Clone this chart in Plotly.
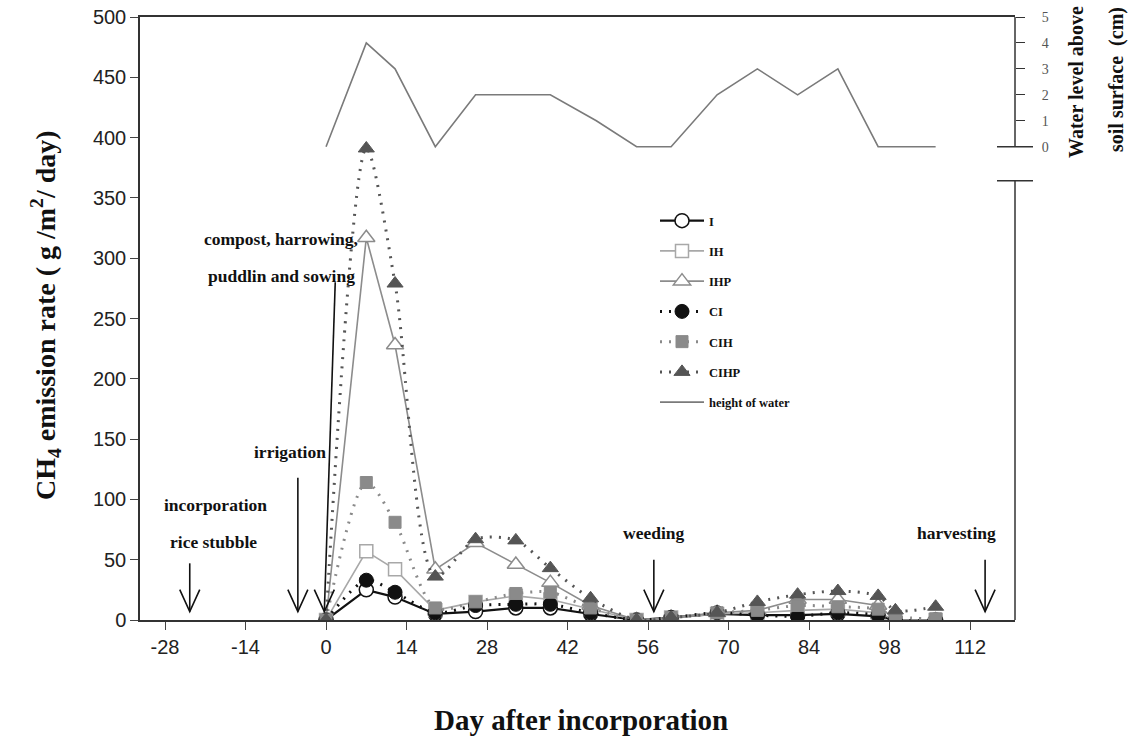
import plotly.graph_objects as go

# ---- data ----
days = [0, 7, 12, 19, 26, 33, 39, 46, 54, 60, 68, 75, 82, 89, 96, 99, 106]
I_vals    = [0, 25, 19, 5, 7, 10, 10, 5, 0, 2, 5, 4, 4, 5, 3, 0, 0]
IH_vals   = [0, 57, 42, 8, 15, 20, 17, 9, 0, 2, 5, 6, 8, 9, 6, 0, 0]
IHP_vals  = [0, 317, 228, 42, 64, 46, 31, 12, 0, 2, 6, 8, 17, 17, 12, 0, 0]
CI_vals   = [0, 33, 23, 6, 12, 13, 13, 6, 0, 2, 6, 4, 3, 6, 4, 0, 0]
CIH_vals  = [0, 114, 81, 10, 15, 22, 23, 10, 0, 2, 6, 8, 12, 11, 9, 3, 1]
CIHP_vals = [0, 391, 279, 36, 67, 66, 43, 18, 0, 2, 6, 15, 21, 24, 20, 8, 11]

water_days = [0, 7, 12, 19, 26, 39, 47, 54, 60, 68, 75, 82, 89, 96, 106]
water_cm   = [0, 4, 3, 0, 2, 2, 1, 0, 0, 2, 3, 2, 3, 0, 0]

x_ticks = [-28, -14, 0, 14, 28, 42, 56, 70, 84, 98, 112]
x_tick_text = ["-28", "-14", "0", "14", "28", "42", "56", "70", "84", "98", "112"]
y_ticks = [0, 50, 100, 150, 200, 250, 300, 350, 400, 450, 500]
w_ticks = [0, 1, 2, 3, 4, 5]

# event labels: (text, text x, text y)
event_labels = [
    ("incorporation", -19.3, 95),
    ("rice stubble", -19.6, 65),
    ("irrigation", -6.3, 139),
    ("weeding", 57, 72),
    ("harvesting", 109.6, 72),
    ("compost, harrowing,", -7.8, 316),
    ("puddlin and sowing", -7.8, 285),
]
# event arrows: (tail x, tail y, tip x, tip y)
event_arrows = [
    (-23.7, 47, -23.7, 7),
    (-4.9, 118, -4.9, 7),
    (1.6, 280, -0.3, 7),
    (57, 50, 57, 7),
    (114.6, 50, 114.6, 7),
]

SERIF = "Liberation Serif"
SANS = "Liberation Sans"

fig = go.Figure()

def add_solid(name, y, color, symbol, width, size):
    fig.add_trace(go.Scatter(
        x=days, y=y, name=name, mode="lines+markers",
        line=dict(color=color, width=width),
        marker=dict(symbol=symbol, size=size, color="white",
                    line=dict(color=color, width=1.5)),
        legendgroup=name))

def add_dotted(name, y, color, symbol, size):
    fig.add_trace(go.Scatter(
        x=days, y=y, name=name, mode="lines+markers",
        line=dict(color=color, width=3, dash="2px,7px", shape="spline", smoothing=0.8),
        marker=dict(symbol=symbol, size=size, color=color,
                    line=dict(color=color, width=1)),
        legendgroup=name))

add_solid("I", I_vals, "#111111", "circle", 2.2, 14)
add_solid("IH", IH_vals, "#a8a8a8", "square", 1.6, 13)
add_solid("IHP", IHP_vals, "#8c8c8c", "triangle-up", 1.6, 15)
add_dotted("CI", CI_vals, "#111111", "circle", 14)
add_dotted("CIH", CIH_vals, "#8a8a8a", "square", 12)
add_dotted("CIHP", CIHP_vals, "#555555", "triangle-up", 14)

fig.add_trace(go.Scatter(
    x=water_days, y=water_cm, name="height of water", mode="lines",
    line=dict(color="#7a7a7a", width=1.6), yaxis="y2", legendgroup="water"))

# layout geometry
y_break_top = (620 - 146.7) / 603
y_break_bot = (620 - 180.7) / 603
half = 18 / 875
AX = "#333333"

shapes = [
    dict(type="line", xref="paper", yref="paper", x0=1, x1=1, y0=1, y1=y_break_top,
         line=dict(color=AX, width=1.5)),
    dict(type="line", xref="paper", yref="paper", x0=1, x1=1, y0=y_break_bot, y1=0,
         line=dict(color=AX, width=1.5)),
    dict(type="line", xref="paper", yref="paper", x0=1 - half, x1=1 + half,
         y0=y_break_top, y1=y_break_top, line=dict(color=AX, width=1.5)),
    dict(type="line", xref="paper", yref="paper", x0=1 - half, x1=1 + half,
         y0=y_break_bot, y1=y_break_bot, line=dict(color=AX, width=1.5)),
]
for tx, ty, hx, hy in event_arrows:
    shapes.append(dict(type="line", xref="x", yref="y", x0=tx, y0=ty, x1=hx, y1=hy,
                       line=dict(color="#111", width=1.6)))
    shapes.append(dict(type="path", xref="x", yref="y", xsizemode="pixel", ysizemode="pixel",
                       xanchor=hx, yanchor=hy, path="M-10,22 L0,0 L10,22",
                       line=dict(color="#111", width=1.6)))

annotations = []
for label, tx, ty in event_labels:
    annotations.append(dict(x=tx, y=ty, xref="x", yref="y", text=label, showarrow=False,
                            font=dict(family=SERIF, size=17.5, color="#111", weight="bold"),
                            xanchor="center", yanchor="middle"))

annotations.append(dict(x=(45 - 140) / 875, y=(620 - 315) / 603, xref="paper", yref="paper",
                        text="CH<sub>4</sub> emission rate ( g /m<sup>2</sup>/ day)",
                        textangle=-90, showarrow=False, xanchor="center", yanchor="middle",
                        font=dict(family=SERIF, size=28, color="#111", weight="bold")))
annotations.append(dict(x=(581 - 140) / 875, y=(620 - 720) / 603, xref="paper", yref="paper",
                        text="Day after incorporation", showarrow=False,
                        xanchor="center", yanchor="middle",
                        font=dict(family=SERIF, size=29, color="#111", weight="bold")))
annotations.append(dict(x=(1076 - 140) / 875, y=(620 - 82) / 603, xref="paper", yref="paper",
                        text="Water level above", textangle=-90, showarrow=False,
                        xanchor="center", yanchor="middle",
                        font=dict(family=SERIF, size=20, color="#111", weight="bold")))
annotations.append(dict(x=(1117 - 140) / 875, y=(620 - 80) / 603, xref="paper", yref="paper",
                        text="soil surface  (cm)", textangle=-90, showarrow=False,
                        xanchor="center", yanchor="middle",
                        font=dict(family=SERIF, size=20, color="#111", weight="bold")))

fig.update_layout(
    width=1136, height=740,
    margin=dict(l=140, r=121, t=17, b=120, autoexpand=False),
    paper_bgcolor="white", plot_bgcolor="white",
    showlegend=True,
    legend=dict(x=(655 - 140) / 875, y=(620 - 206) / 603, xanchor="left", yanchor="top",
                font=dict(family=SERIF, size=12.5, color="#111", weight="bold"),
                tracegroupgap=11, bgcolor="rgba(0,0,0,0)", itemwidth=44),
    xaxis=dict(range=[-32.35, 119.8], tickvals=x_ticks, ticktext=x_tick_text,
               ticks="outside", ticklen=8, automargin=False,
               showline=True, linecolor=AX, linewidth=1.5, mirror=True,
               showgrid=False, zeroline=False,
               tickfont=dict(family=SANS, size=20, color="#222")),
    yaxis=dict(range=[0, 500], tickvals=y_ticks, ticks="outside", ticklen=8, automargin=False,
               showline=True, linecolor=AX, linewidth=1.5,
               showgrid=False, zeroline=False,
               tickfont=dict(family=SANS, size=20, color="#222")),
    yaxis2=dict(range=[-18.25, 5], overlaying="y", side="right", tickvals=w_ticks,
                ticks="outside", ticklen=9, showline=False, showgrid=False, zeroline=False,
                automargin=False, tickcolor=AX, ticklabelstandoff=14,
                tickfont=dict(family=SERIF, size=14, color="#555")),
    shapes=shapes,
    annotations=annotations,
)

fig.write_html("out.html", config={"displayModeBar": False},
               post_script="document.body.style.margin='0px';")
